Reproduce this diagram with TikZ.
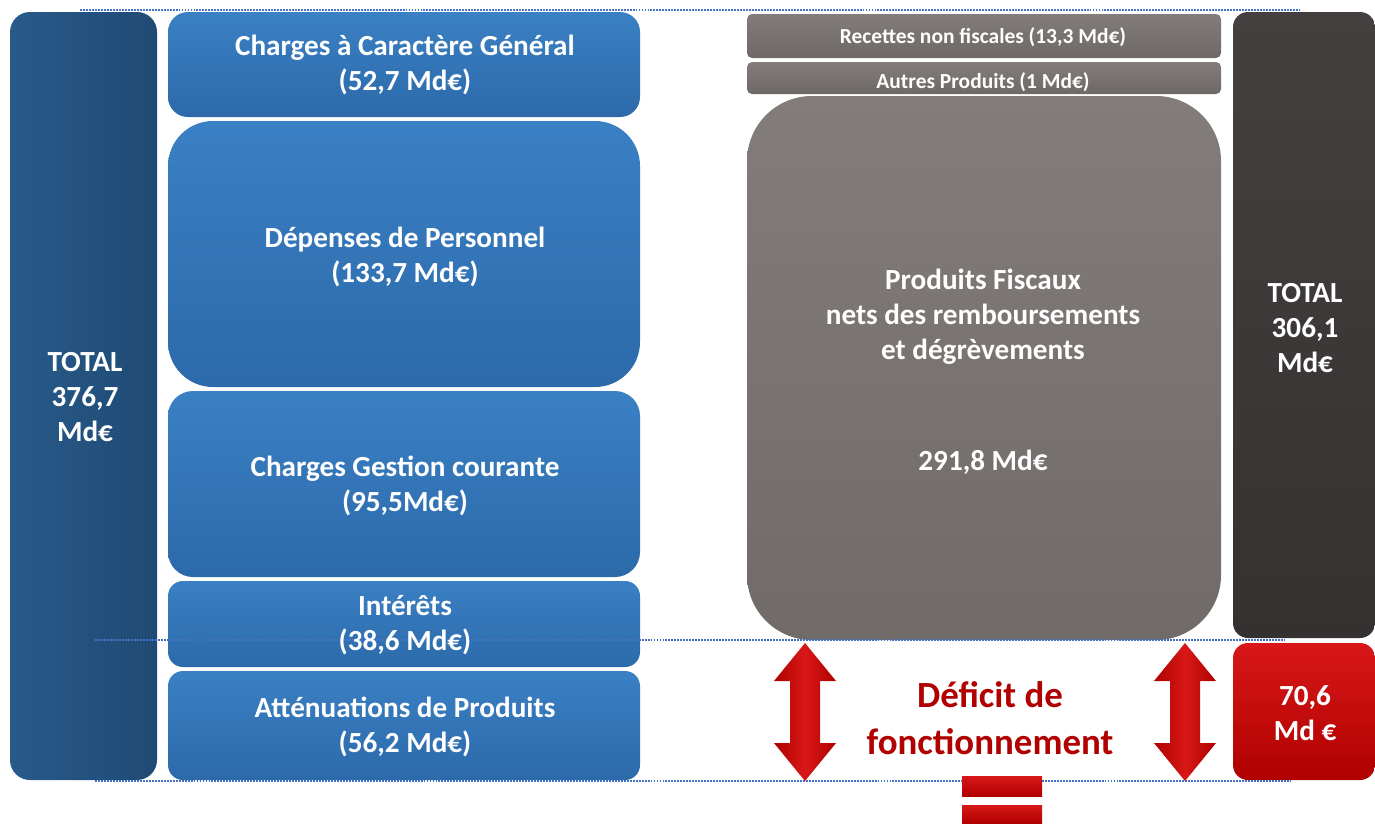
\documentclass[tikz,border=0pt]{standalone}
\usepackage{fontspec}
\setmainfont{Carlito}
\usetikzlibrary{fit}
\definecolor{blueT}{HTML}{3A80C4}
\definecolor{blueB}{HTML}{2C6AAA}
\definecolor{navyT}{HTML}{285A8A}
\definecolor{navyB}{HTML}{1F4A74}
\definecolor{greyT}{HTML}{827D7A}
\definecolor{greyB}{HTML}{706B68}
\definecolor{sgrey}{HTML}{6E6966}
\definecolor{darkT}{HTML}{444040}
\definecolor{darkB}{HTML}{353131}
\definecolor{redT}{HTML}{D81818}
\definecolor{redB}{HTML}{B00000}
\definecolor{deftxt}{HTML}{B00000}
\definecolor{dotblue}{HTML}{4472C4}
\begin{document}
\begin{tikzpicture}[x=0.02cm,y=-0.02cm,
  box/.style={inner sep=0pt,outer sep=0pt,draw=none,rectangle},
  bluebox/.style={box,top color=blueT,bottom color=blueB},
  navybox/.style={box,left color=navyT,right color=navyB},
  greybox/.style={box,top color=greyT,bottom color=greyB},
  sgreybox/.style={box,top color=greyT,bottom color=sgrey},
  darkbox/.style={box,top color=darkT,bottom color=darkB},
  redbox/.style={box,top color=redT,bottom color=redB},
  lbl/.style={text=white,font=\bfseries\fontsize{16.6}{20}\selectfont,align=center},
  slbl/.style={text=white,font=\bfseries\fontsize{12.2}{14}\selectfont,align=center},
  deflbl/.style={text=deftxt,font=\bfseries\fontsize{21}{26.7}\selectfont,align=center},
  dotline/.style={draw=dotblue,line width=1.6pt,dash pattern=on 1.1pt off 0.6pt},
  arrowfill/.style={left color=redB,right color=redB,middle color=redT},
  dblarrow/.pic={\path[arrowfill] (0,0) -- ++(31,38) -- ++(-16,0) -- ++(0,62) -- ++(16,0)
     -- ++(-31,38) -- ++(-31,-38) -- ++(16,0) -- ++(0,-62) -- ++(-16,0) -- cycle;}
]
\useasboundingbox (0,0) rectangle (1375,826);

% left total
\node[navybox,rounded corners=0.4cm,fit={(10,12) (157,780)}] (ltot) {};
% blue expense boxes
\node[bluebox,rounded corners=0.4cm,fit={(168,12) (640,117)}] (b1) {};
\node[bluebox,rounded corners=0.9cm,fit={(168,121) (640,387)}] (b2) {};
\node[bluebox,rounded corners=0.5cm,fit={(168,391) (640,577)}] (b3) {};
\node[bluebox,rounded corners=0.3cm,fit={(168,581) (640,667)}] (b4) {};
\node[bluebox,rounded corners=0.3cm,fit={(168,671) (640,780)}] (b5) {};
% grey revenue boxes
\node[sgreybox,rounded corners=0.1cm,fit={(747,14) (1221,58)}] (g1) {};
\node[sgreybox,rounded corners=0.1cm,fit={(747,62) (1221,94)}] (g2) {};
\node[greybox,rounded corners=1.3cm,fit={(747,96) (1221,640)}] (g3) {};
% right total and deficit
\node[darkbox,rounded corners=0.3cm,fit={(1233,12) (1375,638)}] (rtot) {};
\node[redbox,rounded corners=0.3cm,fit={(1233,643) (1375,780)}] (rdef) {};

% dotted guide lines
\coordinate (d1a) at (80,10);   \coordinate (d1b) at (1300,10);
\coordinate (d2a) at (95,640);  \coordinate (d2b) at (1285,640);
\coordinate (d3a) at (95,781);  \coordinate (d3b) at (1290,781);
\draw[dotline] (d1a) -- (d1b);
\draw[dotline] (d2a) -- (d2b);
\draw[dotline] (d3a) -- (d3b);

% texts
\node[lbl] (t1) at (405,65) {Charges à Caractère Général\\(52,7 Md€)};
\node[lbl] (t2) at (405,257) {Dépenses de Personnel\\(133,7 Md€)};
\node[lbl] (t3) at (405,486) {Charges Gestion courante\\(95,5Md€)};
\node[lbl] (t4) at (405,625) {Intérêts\\(38,6 Md€)};
\node[lbl] (t5) at (405,727) {Atténuations de Produits\\(56,2 Md€)};
\node[lbl] (tl) at (85,397) {TOTAL\\376,7\\Md€};
\node[slbl] (tg1) at (983,37) {Recettes non fiscales (13,3 Md€)};
\node[slbl] (tg2) at (983,82) {Autres Produits (1 Md€)};
\node[lbl] (tg3) at (983,317) {Produits Fiscaux\\nets des remboursements\\et dégrèvements};
\node[lbl] (tg4) at (983,462) {291,8 Md€};
\node[lbl] (tr) at (1305,328) {TOTAL\\306,1\\Md€};
\node[lbl] (tred) at (1305,713) {70,6\\Md €};
\node[deflbl] (tdef) at (990,718) {Déficit de\\fonctionnement};

% arrows
\pic (arL) at (805,643) {dblarrow};
\pic (arR) at (1185,643) {dblarrow};

% equal sign
\node[redbox,fit={(962,776) (1042,796)}] (eq1) {};
\node[redbox,fit={(962,805) (1042,823)}] (eq2) {};
\end{tikzpicture}
\end{document}
